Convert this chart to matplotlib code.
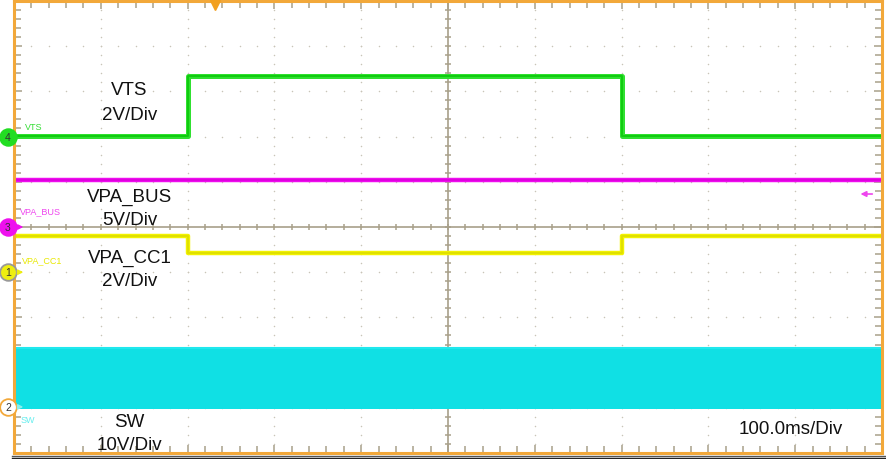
import matplotlib
matplotlib.use("Agg")
import matplotlib.pyplot as plt
from matplotlib.lines import Line2D
import numpy as np

# ---- data (in screen divisions, 0..10 both axes) ----
edge_times = [0.0, 2.0, 7.0, 10.0]          # transition times (div)
vts_levels = [7.01, 8.34, 7.01]             # VTS green
vpa_cc1_levels = [4.80, 4.42, 4.80]         # VPA_CC1 yellow
vpa_bus_level = 6.04                        # VPA_BUS magenta
sw_low, sw_high = 0.97, 2.32                # SW cyan band
channel_markers = [("4", 7.0, "#22dd22"), ("3", 5.0, "#ee11ee"),
                   ("1", 4.0, "#eeee10"), ("2", 1.02, "#ffffff")]
big_labels = [("VTS", 7.94), ("2V/Div", 7.39), ("VPA_BUS", 5.58), ("5V/Div", 5.07),
              ("VPA_CC1", 4.23), ("2V/Div", 3.71), ("SW", 0.60), ("10V/Div", 0.09)]
timebase_label = "100.0ms/Div"

W, H = 887, 460
fig = plt.figure(figsize=(W / 100, H / 100), dpi=100)
L, R, T, B = 14, 882, 2, 454
ax = fig.add_axes([L / W, (H - B) / H, (R - L) / W, (B - T) / H])
ax.set_xlim(0, 10)
ax.set_ylim(0, 10)
ax.set_facecolor("white")

grid_c = "#a8a08a"
orange = "#f2a83a"

# dotted grid
minor = np.arange(0, 10.001, 0.2)
for i in range(1, 10):
    if i == 5:
        continue
    ax.scatter(np.full_like(minor, i), minor, s=1.2, color="#c8c4b8", zorder=1, lw=0)
    ax.scatter(minor, np.full_like(minor, i), s=1.2, color="#c8c4b8", zorder=1, lw=0)
# centre cross
ax.axvline(5, color=grid_c, lw=1.2, zorder=1)
ax.axhline(5, color=grid_c, lw=1.2, zorder=1)
ax.plot(np.full_like(minor, 5), minor, ls="none", marker="_", ms=5, mew=1.1, color=grid_c, zorder=1)
ax.plot(minor, np.full_like(minor, 5), ls="none", marker="|", ms=5, mew=1.1, color=grid_c, zorder=1)

# traces
ax.fill_between([0, 10], sw_low, sw_high, color="#10e0e4", lw=0, zorder=2)
ax.plot([0, 10], [sw_high, sw_high], color="#20e8ee", lw=1.5, zorder=2)

ax.axhline(vpa_bus_level, color="#f010f0", lw=3.2, zorder=3)
ax.axhline(vpa_bus_level, color="#e000e0", lw=1.6, zorder=3)

ax.step(edge_times, vpa_cc1_levels + [vpa_cc1_levels[-1]], where="post",
        color="#f2f200", lw=3.2, zorder=3)
ax.step(edge_times, vpa_cc1_levels + [vpa_cc1_levels[-1]], where="post",
        color="#e0e000", lw=1.4, zorder=3)

ax.step(edge_times, vts_levels + [vts_levels[-1]], where="post",
        color="#30e030", lw=3.6, zorder=4)
ax.step(edge_times, vts_levels + [vts_levels[-1]], where="post",
        color="#10cc10", lw=1.4, zorder=4)

# ticks on frame
ax.set_xticks(np.arange(0, 11, 1))
ax.set_yticks(np.arange(0, 11, 1))
ax.set_xticks(minor, minor=True)
ax.set_yticks(minor, minor=True)
ax.tick_params(which="both", direction="in", top=True, right=True,
               labelbottom=False, labelleft=False, color=grid_c, width=1.1)
ax.tick_params(which="major", length=6)
ax.tick_params(which="minor", length=5)
for s in ax.spines.values():
    s.set_color(orange)
    s.set_linewidth(2.2)
    s.set_zorder(6)

font = "Liberation Sans"
for txt, y in big_labels:
    ax.text(1.33, y, txt, fontsize=13.5, family=font, ha="center", va="baseline", color="#111111", zorder=5)
ax.text(8.95, 0.44, timebase_label, fontsize=13.5, family=font, ha="center", va="baseline", color="#111111", zorder=5)

# small channel names
ax.text(0.13, 7.22, "VTS", fontsize=6.5, family=font, color="#33dd33", va="center", zorder=5)
ax.text(0.07, 5.35, "VPA_BUS", fontsize=6.5, family=font, color="#ee44ee", va="center", zorder=5)
ax.text(0.09, 4.27, "VPA_CC1", fontsize=6.5, family=font, color="#e8e800", va="center", zorder=5)
ax.text(0.07, 0.74, "SW", fontsize=6.5, family=font, color="#66eeee", va="center", zorder=5)

# channel markers on left edge
xm = -6 / (R - L)
for num, y, c in channel_markers:
    ec = "#f2a83a" if num == "2" else ("#999999" if num == "1" else c)
    ax.plot([xm], [y], marker="o", ms=12, mfc=c, mec=ec, mew=1.3,
            transform=ax.get_yaxis_transform(), clip_on=False, zorder=8)
    ax.text(xm, y, num, fontsize=7.5, family=font, ha="center", va="center",
            color="#333333", transform=ax.get_yaxis_transform(), clip_on=False, zorder=9)
# small arrows to the right of markers
for y, c in [(5.0, "#ee11ee"), (4.0, "#eeee10"), (1.02, "#88eeee")]:
    ax.annotate("", xy=(0.14, y), xytext=(0.02, y),
                arrowprops=dict(arrowstyle="-|>", color=c, lw=1.2, mutation_scale=7), zorder=9)

# trigger markers
ax.plot([2.32], [9.92], marker="v", ms=7, color="#f2a020", clip_on=False, zorder=9)
ax.annotate("", xy=(9.72, 5.73), xytext=(9.92, 5.73),
            arrowprops=dict(arrowstyle="-|>", color="#ee44ee", lw=1.2, mutation_scale=8), zorder=9)

# dark line below the screen
for yy, c in [(456.5, "#555555"), (458.5, "#222222")]:
    fig.add_artist(Line2D([12 / W, 1], [(H - yy) / H] * 2, color=c, lw=1.0))

fig.savefig("out.png", dpi=100)
